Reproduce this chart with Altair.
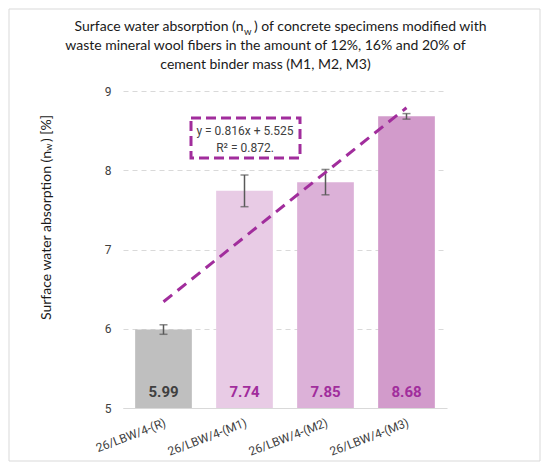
import altair as alt
import pandas as pd

samples = ["26/LBW/4-(R)", "26/LBW/4-(M1)", "26/LBW/4-(M2)", "26/LBW/4-(M3)"]
values = [5.99, 7.74, 7.85, 8.68]
errors = [0.06, 0.20, 0.16, 0.035]
bar_colors = ["#bfbfbf", "#e8cbe5", "#dcb1d8", "#d29bcb"]
trend_samples = ["26/LBW/4-(R)", "26/LBW/4-(M3)"]
trend_values = [6.341, 8.789]
y_ticks = [5, 6, 7, 8, 9]

PURPLE = "#a12d9c"
TXT = "#404040"
TITLE_FONT = "Lato"
NUM_FONT = "Roboto"

df = pd.DataFrame({"sample": samples, "value": values, "err": errors})
df["lo"] = df["value"] - df["err"]
df["hi"] = df["value"] + df["err"]
trend = pd.DataFrame({"sample": trend_samples, "value": trend_values})

W, H = 324, 317

xscale = alt.Scale(domain=samples, paddingInner=0.3, paddingOuter=0.15)
yscale = alt.Scale(domain=[5, 9], nice=False, zero=False)

x_main = alt.X(
    "sample:N", scale=xscale, sort=samples,
    axis=alt.Axis(title=None, labelAngle=339, labelAlign="right", labelBaseline="top",
                  labelPadding=9, ticks=False, domainColor="#d9d9d9", grid=False,
                  labelFont=NUM_FONT, labelFontSize=12, labelColor=TXT),
)
y_main = alt.Y(
    "value:Q", scale=yscale,
    axis=alt.Axis(title=None, values=y_ticks, format="d", ticks=False, domain=False,
                  grid=True, gridDash=[5, 4], gridColor="#d9d9d9", labelFont=NUM_FONT,
                  labelFontSize=12, labelColor=TXT, labelPadding=12),
)
x_plain = alt.X("sample:N", sort=samples, title=None)

one = alt.Data(values=[{"k": 1}])


def txt(s, x, y, **kw):
    return alt.Chart(one).mark_text(text=s, **kw).encode(x=alt.value(x), y=alt.value(y))


frame = alt.Chart(one).mark_rect(fill="transparent", stroke="#d9d9d9", strokeWidth=1).encode(
    x=alt.value(-114), x2=alt.value(417), y=alt.value(-82), y2=alt.value(370)
)

bars = alt.Chart(df).mark_bar().encode(
    x=x_main, y=y_main, y2=alt.datum(5),
    color=alt.Color("sample:N", scale=alt.Scale(domain=samples, range=bar_colors), legend=None),
)

err_rule = alt.Chart(df).mark_rule(color="#595959", strokeWidth=1.5).encode(
    x=x_plain, y=alt.Y("lo:Q", title=None), y2="hi:Q"
)
cap_lo = alt.Chart(df).mark_tick(color="#595959", size=8, thickness=1.5).encode(
    x=x_plain, y=alt.Y("lo:Q", title=None)
)
cap_hi = alt.Chart(df).mark_tick(color="#595959", size=8, thickness=1.5).encode(
    x=x_plain, y=alt.Y("hi:Q", title=None)
)

trend_line = alt.Chart(trend).mark_line(color=PURPLE, strokeWidth=3, strokeDash=[11, 7]).encode(
    x=x_plain, y=alt.Y("value:Q", title=None)
)

labels = alt.Chart(df).mark_text(font=NUM_FONT, fontSize=15, fontWeight="bold",
                                 baseline="alphabetic", dy=-11).encode(
    x=x_plain, y=alt.datum(5), text=alt.Text("value:Q", format=".2f"),
    color=alt.condition(alt.datum.sample == samples[0], alt.value(TXT), alt.value(PURPLE)),
)

box = alt.Chart(one).mark_rect(fill="transparent", stroke=PURPLE, strokeWidth=3,
                               strokeDash=[10, 5]).encode(
    x=alt.value(68), x2=alt.value(177), y=alt.value(27), y2=alt.value(67)
)
eq1 = txt("y = 0.816x + 5.525", 122, 40, font=NUM_FONT, fontSize=12, color=TXT,
          align="center", baseline="middle")
eq2 = txt("R² = 0.872.", 122, 56.5, font=NUM_FONT, fontSize=12, color=TXT,
          align="center", baseline="middle")

tkw = dict(font=TITLE_FONT, fontSize=14, color="#1a1a1a", baseline="alphabetic")
t1a = txt("Surface water absorption (n", 120.5, -60, align="right", **tkw)
t1b = txt("w", 121, -56.5, align="left", font=TITLE_FONT, fontSize=9.5, color="#1a1a1a",
          baseline="alphabetic")
t1c = txt(") of concrete specimens modified with", 131, -60, align="left", **tkw)
t2 = txt("waste mineral wool fibers in the amount of 12%, 16% and 20% of", 142.5, -41,
         align="center", **tkw)
t3 = txt("cement binder mass (M1, M2, M3)", 142.5, -22, align="center", **tkw)

ykw = dict(font=TITLE_FONT, fontSize=14, color="#1a1a1a", baseline="alphabetic", angle=270)
ya = txt("Surface water absorption (n", -72.5, 60, align="right", **ykw)
yb = txt("w", -71, 60, align="left", font=TITLE_FONT, fontSize=9.5, color="#1a1a1a",
         baseline="alphabetic", angle=270)
yc = txt(") [%]", -72.5, 51, align="left", **ykw)

chart = alt.layer(
    frame, bars, err_rule, cap_lo, cap_hi, trend_line, labels, box, eq1, eq2,
    t1a, t1b, t1c, t2, t3, ya, yb, yc,
).properties(
    width=W, height=H,
    autosize=alt.AutoSizeParams(type="none"),
    padding={"left": 115, "top": 83, "right": 95, "bottom": 55},
).configure_view(stroke=None)

chart.save("out.html", embed_options={"renderer": "svg", "actions": False})
